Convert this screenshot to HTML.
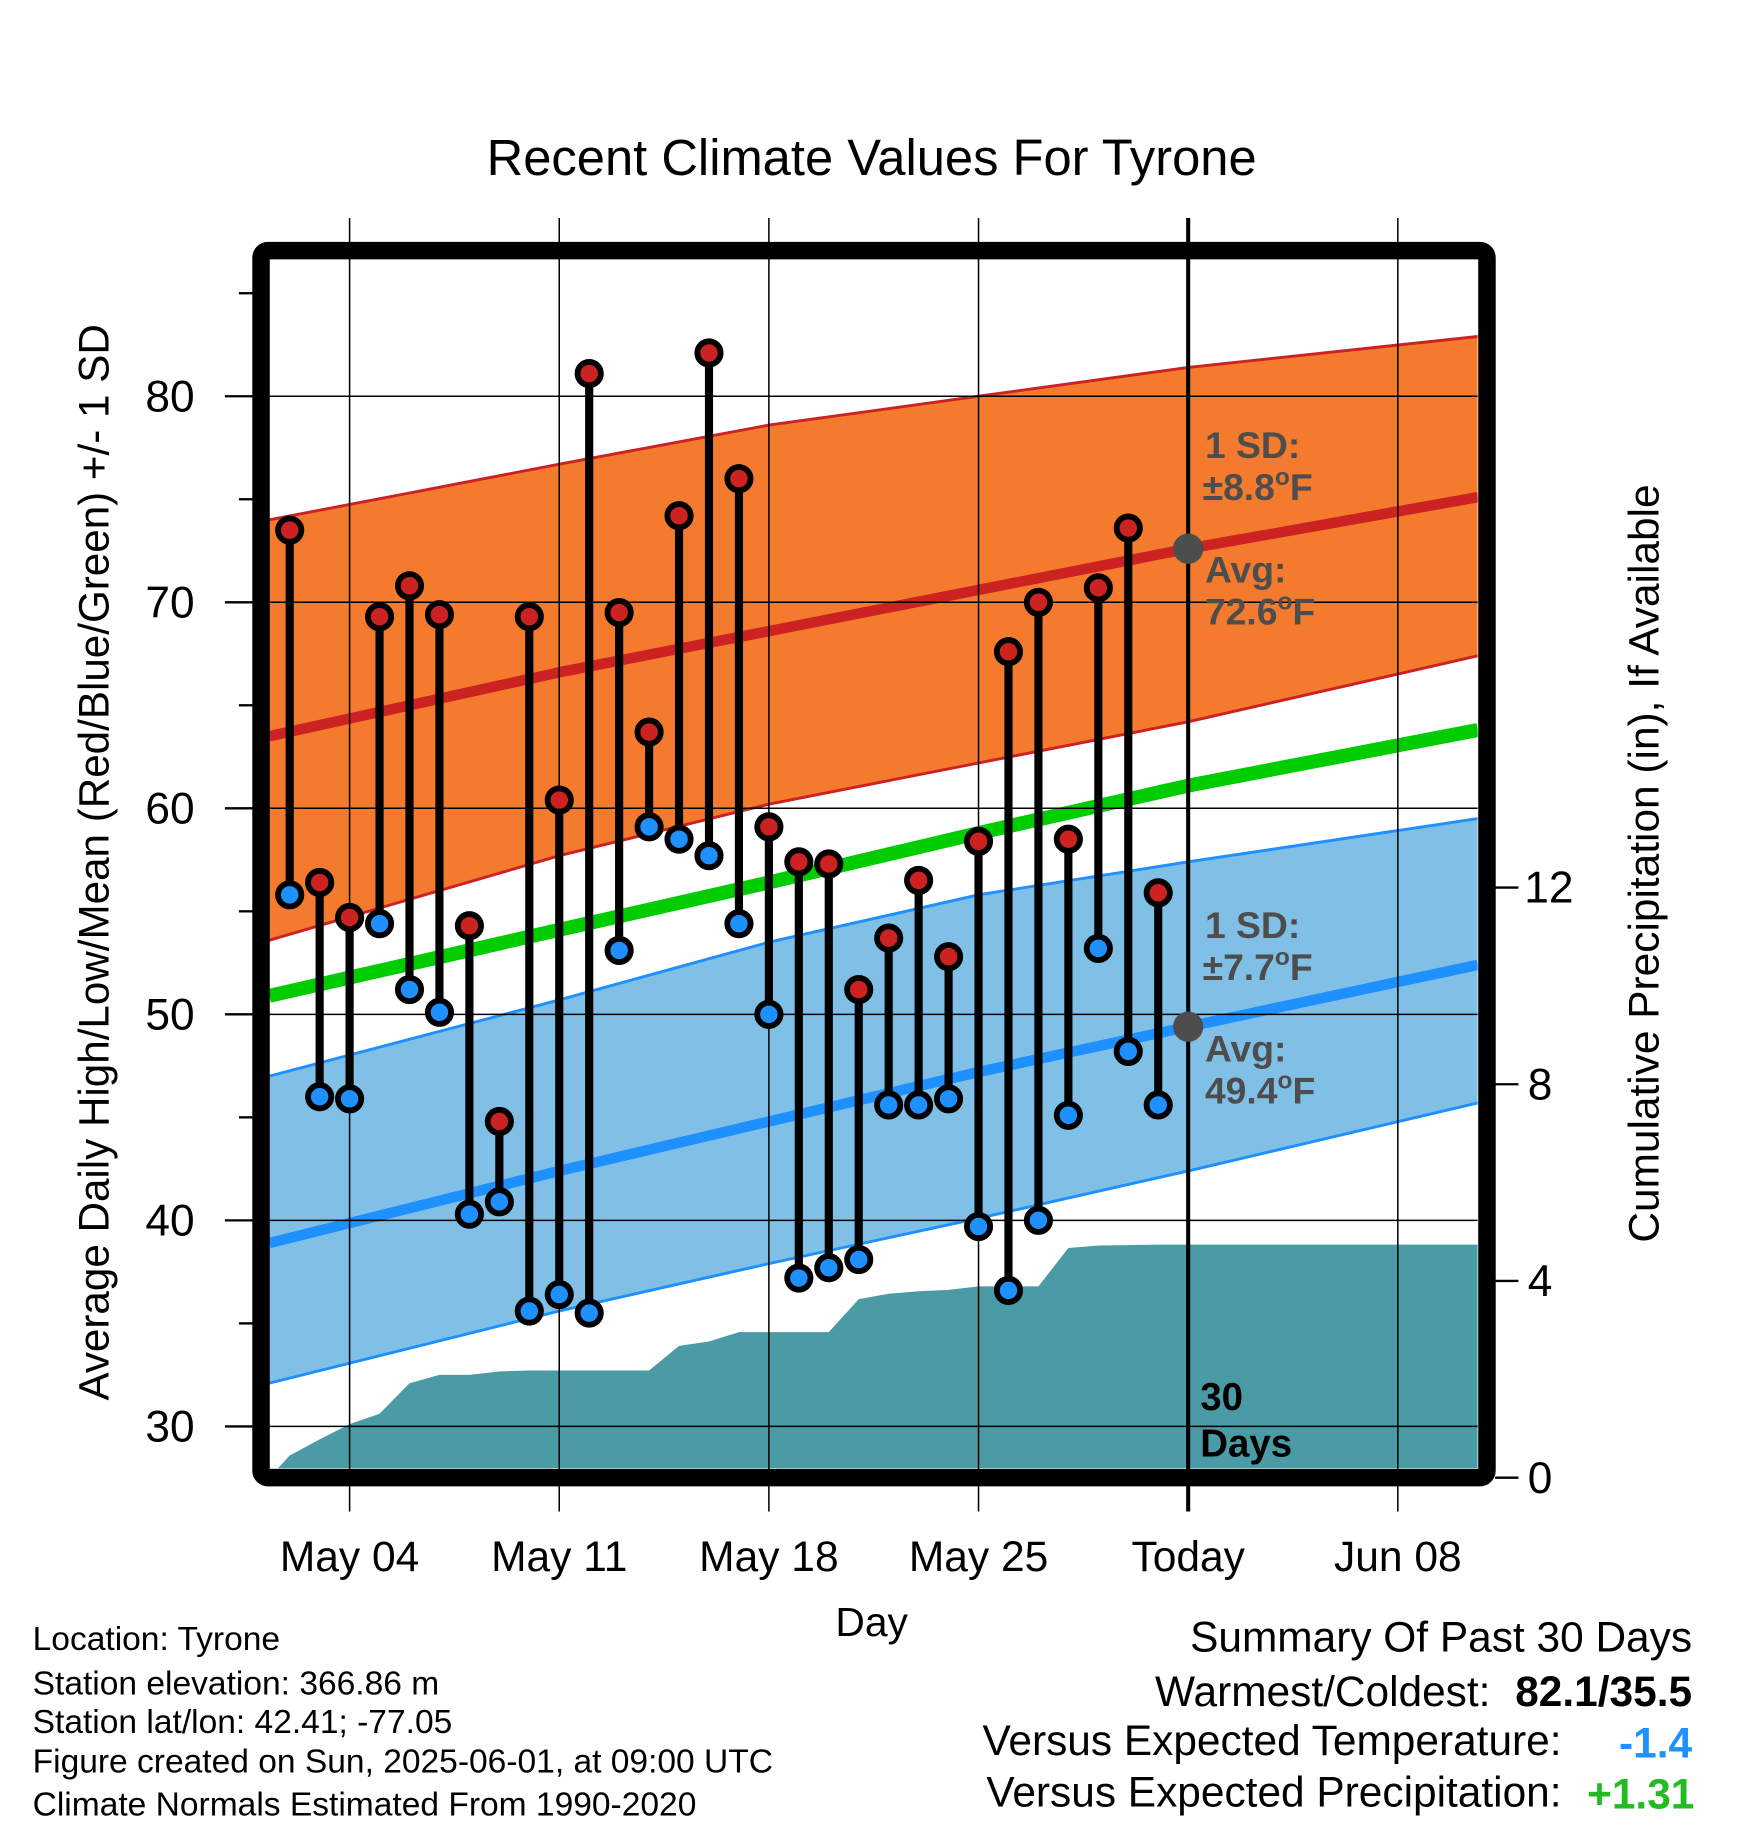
<!DOCTYPE html>
<html><head><meta charset="utf-8"><style>
html,body{margin:0;padding:0;background:#fff;}
svg{display:block;font-family:"Liberation Sans",Arial,sans-serif;}
</style></head><body>
<svg id="chart" xmlns="http://www.w3.org/2000/svg" width="1748" height="1828" viewBox="0 0 1500 1568.6">
<g id="g"></g>
</svg>
<script>
// ---- data ----
const dayLabels = ["May 04","May 11","May 18","May 25","Today","Jun 08"];
const dayLabelDays = [4,11,18,25,32,39];
const obsDays = [2,3,4,5,6,7,8,9,10,11,12,13,14,15,16,17,18,19,20,21,22,23,24,25,26,27,28,29,30,31];
const highs = [73.5,56.4,54.7,69.3,70.8,69.4,54.3,44.8,69.3,60.4,81.1,69.5,63.7,74.2,82.1,76.0,59.1,57.4,57.3,51.2,53.7,56.5,52.8,58.4,67.6,70.0,58.5,70.7,73.6,55.9];
const lows = [55.8,46.0,45.9,54.4,51.2,50.1,40.3,40.9,35.6,36.4,35.5,53.1,59.1,58.5,57.7,54.4,50.0,37.2,37.7,38.1,45.6,45.6,45.9,39.7,36.6,40.0,45.1,53.2,48.2,45.6];
const precipDays = [1.32,2,3,4,5,6,7,8,9,10,11,12,13,14,15,16,17,18,19,20,21,22,23,24,25,26,27,28,29,30,31,41.67];
const precip = [0.0,0.45,0.78,1.09,1.30,1.92,2.09,2.09,2.16,2.18,2.18,2.18,2.18,2.18,2.68,2.77,2.96,2.96,2.96,2.96,3.63,3.74,3.79,3.82,3.89,3.89,3.89,4.67,4.72,4.73,4.74,4.74];
const normDays = [1.32,11,18,25,32,41.67];
const highUpper = [74.0,76.7,78.6,80.0,81.4,82.9];
const highMean = [63.5,66.6,68.6,70.6,72.6,75.1];
const highLower = [53.6,57.7,60.2,62.2,64.2,67.4];
const meanNorm = [50.9,54.1,56.4,58.8,61.1,63.8];
const lowUpper = [47.0,50.7,53.5,55.8,57.4,59.5];
const lowMean = [38.9,42.4,44.8,47.2,49.4,52.4];
const lowLower = [32.1,35.6,37.9,40.1,42.4,45.7];
const yTicks = [30,40,50,60,70,80];
const yMinor = [35,45,55,65,75,85];
const pTicks = [0,4,8,12];

// ---- scales ----
const X0=231,X1=1268,Y0=222,Y1=1260;
const x = d => 300 + (d-4)*25.7;
const y = v => 340 + (80-v)*17.68;
const yp = p => 1268 - p*42.2;

const NS="http://www.w3.org/2000/svg";
const g=document.getElementById('g');
function mk(tag,attrs,parent){const e=document.createElementNS(NS,tag);for(const k in attrs)e.setAttribute(k,attrs[k]);(parent||g).appendChild(e);return e;}
function txt(s,attrs,parent){const e=mk('text',attrs,parent);e.textContent=s;return e;}

// title
let t=txt("Recent Climate Values For Tyrone",{x:748,y:150,'text-anchor':'middle','font-size':43.5});



// clip
const defs=mk('defs',{});
const cp=mk('clipPath',{id:'pc'},defs);
mk('rect',{x:X0,y:Y0,width:X1-X0,height:Y1-Y0},cp);
const plot=mk('g',{'clip-path':'url(#pc)'});



function band(days,up,lo,fill,name){
  let d="M"+days.map((dd,i)=>x(dd)+","+y(up[i])).join(" L");
  for(let i=days.length-1;i>=0;i--) d+=" L"+x(days[i])+","+y(lo[i]);
  const p=mk('path',{d:d+"Z",fill:fill},plot);
  
  
}
function line(days,vals,color,w,name){
  const p=mk('polyline',{points:days.map((dd,i)=>x(dd)+","+y(vals[i])).join(" "),fill:'none',stroke:color,'stroke-width':w,'stroke-linejoin':'round'},plot);
  
  
}
band(normDays,highUpper,highLower,'#f47a2e','high-sd-band');
line(normDays,highUpper,'#cc2222',2.5,'high-upper-sd-line');
line(normDays,highLower,'#cc2222',2.5,'high-lower-sd-line');
line(normDays,highMean,'#cc2222',9,'avg-high-line');
band(normDays,lowUpper,lowLower,'#80c0e6','low-sd-band');
line(normDays,lowUpper,'#1e90ff',2.5,'low-upper-sd-line');
line(normDays,lowLower,'#1e90ff',2.5,'low-lower-sd-line');
line(normDays,lowMean,'#1e90ff',9,'avg-low-line');
line(normDays,meanNorm,'#00cc00',12,'avg-mean-line');

// precip area
let pd="M"+x(precipDays[0])+","+Y1+" "+precipDays.map((dd,i)=>"L"+x(dd)+","+yp(precip[i])).join(" ")+" L"+x(precipDays[precipDays.length-1])+","+Y1+"Z";
const pa=mk('path',{d:pd,fill:'#4a9ba5'},plot);



// grid
const grid=mk('g',{stroke:'#000','stroke-width':1.3});


yTicks.forEach(v=>mk('line',{x1:X0,x2:X1,y1:y(v),y2:y(v)},grid));
dayLabelDays.forEach((d,i)=>{ if(i!==4) mk('line',{x1:x(d),x2:x(d),y1:187,y2:1297},grid);});
const tl=mk('line',{x1:x(32),x2:x(32),y1:187,y2:1297,stroke:'#000','stroke-width':3.5});



// obs stems & dots
const obs=mk('g',{});


obsDays.forEach((d,i)=>{
  const s=mk('line',{x1:x(d),x2:x(d),y1:y(highs[i]),y2:y(lows[i]),stroke:'#000','stroke-width':7},obs);
  
  
});
obsDays.forEach((d,i)=>{
  const h=mk('circle',{cx:x(d),cy:y(highs[i]),r:10,fill:'#cc2222',stroke:'#000','stroke-width':5},obs);
  
  
  const l=mk('circle',{cx:x(d),cy:y(lows[i]),r:10,fill:'#1e90ff',stroke:'#000','stroke-width':5},obs);
  
  
});

// today markers
[highMean[4],lowMean[4]].forEach(v=>{
  const c=mk('circle',{cx:x(32),cy:y(v),r:13,fill:'#4d4d4d'});
  
  
});
// annotations
const ann=mk('g',{fill:'#4d4d4d','font-weight':'bold','font-size':32});


function degTxt(s,xx,yy){const e=txt('',{x:xx,y:yy},ann);e.appendChild(document.createTextNode(s));const sp=document.createElementNS(NS,'tspan');sp.setAttribute('dy',-13);sp.setAttribute('font-size',21);sp.textContent='o';e.appendChild(sp);const sp2=document.createElementNS(NS,'tspan');sp2.setAttribute('dy',13);sp2.textContent='F';e.appendChild(sp2);}
txt("1 SD:",{x:1034,y:393},ann); degTxt("±8.8",1032,429);
txt("Avg:",{x:1034,y:500},ann); degTxt("72.6",1034,536);
txt("1 SD:",{x:1034,y:805},ann); degTxt("±7.7",1032,841);
txt("Avg:",{x:1034,y:911},ann); degTxt("49.4",1034,947);
const d30=mk('g',{'font-weight':'bold','font-size':33});


txt("30",{x:1030,y:1210},d30); txt("Days",{x:1030,y:1250},d30);

// frame
const fr=mk('rect',{x:224,y:215,width:1052,height:1053,fill:'none',stroke:'#000','stroke-width':15,rx:6});



// left axis
const ya=mk('g',{'font-size':38});


yTicks.forEach(v=>{mk('line',{x1:193,x2:217,y1:y(v),y2:y(v),stroke:'#000','stroke-width':2},ya);txt(String(v),{x:167,y:y(v)+13,'text-anchor':'end'},ya);});
yMinor.forEach(v=>mk('line',{x1:205,x2:217,y1:y(v),y2:y(v),stroke:'#000','stroke-width':2},ya));
const yt=txt("Average Daily High/Low/Mean (Red/Blue/Green) +/- 1 SD",{x:0,y:0,'text-anchor':'middle','font-size':36.2,transform:'translate(93,740) rotate(-90)'});



// right axis
const ra=mk('g',{'font-size':38});


pTicks.forEach(p=>{mk('line',{x1:1283,x2:1303,y1:yp(p),y2:yp(p),stroke:'#000','stroke-width':2},ra);txt(String(p),{x:p>=10?1308:1311,y:yp(p)+13},ra);});
const rt=txt("Cumulative Precipitation (in), If Available",{x:0,y:0,'text-anchor':'middle','font-size':36.4,transform:'translate(1423,741) rotate(-90)'});



// x axis
const xa=mk('g',{'font-size':36.5,'text-anchor':'middle'});


dayLabels.forEach((s,i)=>txt(s,{x:x(dayLabelDays[i]),y:1348},xa));
const xt=txt("Day",{x:748,y:1404,'text-anchor':'middle','font-size':35});



// footer left
const fl=mk('g',{'font-size':28.8});


["Location: Tyrone","Station elevation: 366.86 m","Station lat/lon: 42.41; -77.05","Figure created on Sun, 2025-06-01, at 09:00 UTC","Climate Normals Estimated From 1990-2020"].forEach((s,i)=>txt(s,{x:28,y:[1416,1454,1487,1521,1558][i]},fl));

// footer right
const fs=mk('g',{'font-size':36.4,'text-anchor':'end'});


txt("Summary Of Past 30 Days",{x:1452,y:1417},fs);
txt("Warmest/Coldest:",{x:1279,y:1464},fs);
txt("82.1/35.5",{x:1452,y:1464,'font-weight':'bold'},fs);
txt("Versus Expected Temperature:",{x:1340,y:1506},fs);
txt("-1.4",{x:1452,y:1508,'font-weight':'bold',fill:'#1e90ff'},fs);
txt("Versus Expected Precipitation:",{x:1340,y:1550},fs);
txt("+1.31",{x:1454,y:1552,'font-weight':'bold',fill:'#22bb22'},fs);
</script>
</body></html>
